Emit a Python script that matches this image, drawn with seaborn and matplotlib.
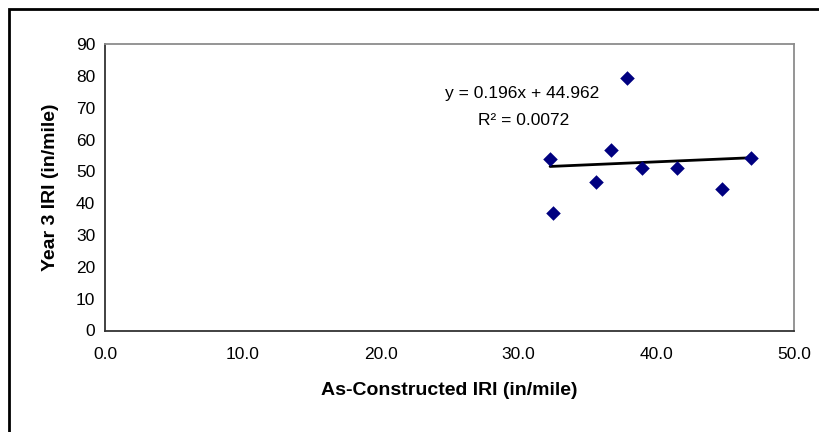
import numpy as np
import pandas as pd
import seaborn as sns
import matplotlib.pyplot as plt
from matplotlib.patches import Rectangle

# data
as_constructed = [32.3, 32.5, 35.6, 36.7, 37.9, 39.0, 41.5, 44.8, 46.9]
year3 = [53.8, 36.9, 46.8, 56.6, 79.2, 51.1, 51.2, 44.5, 54.3]
eq_text = "y = 0.196x + 44.962"
r2_text = "R² = 0.0072"

df = pd.DataFrame({"x": as_constructed, "y": year3})

sns.set_style("white")
plt.rcParams["font.family"] = ["Liberation Sans", "DejaVu Sans"]
plt.rcParams["text.color"] = "black"
plt.rcParams["axes.labelcolor"] = "black"
plt.rcParams["xtick.color"] = "black"
plt.rcParams["ytick.color"] = "black"

fig = plt.figure(figsize=(8.2, 4.32), dpi=100)
ax = fig.add_axes([105 / 820, 1 - 330.5 / 432, 689 / 820, 286.5 / 432])

# trend line
sns.regplot(data=df, x="x", y="y", ax=ax, scatter=False, ci=None,
            line_kws={"color": "black", "lw": 2})
sns.scatterplot(data=df, x="x", y="y", ax=ax, marker="D", s=55,
                color="#000080", edgecolor="#000080", linewidth=0, zorder=3)

ax.set_xlim(0, 50)
ax.set_ylim(0, 90)
ax.set_xticks(np.arange(0, 51, 10))
ax.set_xticklabels([f"{v:.1f}" for v in np.arange(0, 51, 10)])
ax.set_yticks(np.arange(0, 91, 10))
ax.tick_params(axis="both", direction="out", length=4, width=1,
               color="#333333", labelsize=12.5, labelcolor="black", pad=8)
ax.tick_params(axis="y", pad=3)

for s in ["left", "bottom"]:
    ax.spines[s].set_color("#333333")
    ax.spines[s].set_linewidth(1.3)
for s in ["top", "right"]:
    ax.spines[s].set_color("#8c8c8c")
    ax.spines[s].set_linewidth(1.3)
    ax.spines[s].set_visible(True)

ax.set_xlabel("As-Constructed IRI (in/mile)", fontsize=14, fontweight="bold", labelpad=14)
ax.set_ylabel("Year 3 IRI (in/mile)", fontsize=14, fontweight="bold", labelpad=12)

ax.text(30.3, 74.6, eq_text, ha="center", va="center", fontsize=12.5)
ax.text(30.4, 66.1, r2_text, ha="center", va="center", fontsize=12.5)

# outer chart frame
fig.patches.append(Rectangle((9 / 820, -0.1), 1.2, (1 - 9 / 432) + 0.1,
                             transform=fig.transFigure, fill=False,
                             edgecolor="black", lw=2))

fig.savefig("out.png", dpi=100)
